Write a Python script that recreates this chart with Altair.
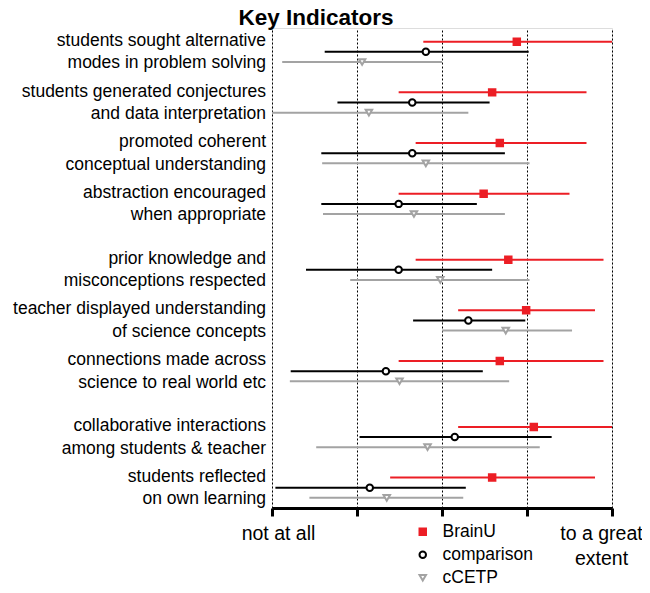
import altair as alt
import pandas as pd

FONT = "Liberation Sans, Arial, Helvetica, sans-serif"

indicators = [
    "students sought alternative \nmodes in problem solving",
    "students generated conjectures\nand data interpretation",
    "promoted coherent\nconceptual understanding",
    "abstraction encouraged\nwhen appropriate",
    "prior knowledge and\nmisconceptions respected",
    "teacher displayed understanding\nof science concepts",
    "connections made across\nscience to real world etc",
    "collaborative interactions\namong students  & teacher",
    "students reflected\non own learning",
]
groups = [0, 0, 0, 0, 1, 1, 1, 2, 2]

series = ["BrainU", "comparison", "cCETP"]
colors = ["#EC1E25", "#000000", "#A3A3A3"]
fills = ["#EC1E25", "#FFFFFF", "#FFFFFF"]
shapes = ["square", "circle", "triangle-down"]

brainu_mean = [3.88, 3.59, 3.68, 3.49, 3.78, 3.99, 3.68, 4.08, 3.59]
brainu_lo = [2.78, 2.49, 2.69, 2.49, 2.69, 3.19, 2.49, 3.19, 2.39]
brainu_hi = [5.00, 4.70, 4.70, 4.50, 4.90, 4.80, 4.90, 5.00, 4.80]

comp_mean = [2.81, 2.65, 2.65, 2.49, 2.49, 3.31, 2.34, 3.15, 2.15]
comp_lo = [1.62, 1.77, 1.58, 1.58, 1.40, 2.66, 1.22, 2.03, 1.04]
comp_hi = [4.02, 3.56, 3.74, 3.41, 3.59, 3.98, 3.48, 4.29, 3.28]

cc_mean = [2.06, 2.14, 2.81, 2.67, 2.98, 3.75, 2.50, 2.83, 2.35]
cc_lo = [1.12, 1.00, 1.59, 1.60, 1.92, 3.00, 1.21, 1.52, 1.44]
cc_hi = [3.00, 3.31, 4.03, 3.74, 4.03, 4.53, 3.79, 4.15, 3.25]

x_ticks = [1, 2, 3, 4, 5]
title_text = ["Key Indicators"]

GROUP_GAP = 0.3
SERIES_OFFSET = [-0.2, 0.0, 0.2]

row_pos = [i + GROUP_GAP * g for i, g in enumerate(groups)]

all_stats = [
    (brainu_mean, brainu_lo, brainu_hi),
    (comp_mean, comp_lo, comp_hi),
    (cc_mean, cc_lo, cc_hi),
]

rows = []
for s_i, (name, (m, lo, hi)) in enumerate(zip(series, all_stats)):
    for r_i in range(len(indicators)):
        rows.append({
            "series": name,
            "indicator": indicators[r_i],
            "pos": row_pos[r_i] + SERIES_OFFSET[s_i],
            "mean": m[r_i],
            "lo": lo[r_i],
            "hi": hi[r_i],
        })
df = pd.DataFrame(rows)
labels_df = pd.DataFrame({"label": indicators, "pos": row_pos})
title_df = pd.DataFrame({"t": title_text})

y_scale = alt.Scale(domain=[-0.47, 9.0], reverse=True, nice=False, zero=False)
x_scale = alt.Scale(domain=[1, 5], nice=False, zero=False)

x_axis = alt.Axis(
    values=x_ticks,
    grid=True,
    gridDash=[2, 2],
    gridColor="black",
    gridWidth=1,
    gridOpacity=1,
    domainColor="black",
    domainWidth=3,
    tickColor="black",
    tickWidth=3,
    tickSize=8,
    labelExpr="datum.value == 1 ? 'not at all' : (datum.value == 5 ? ['to a great', 'extent'] : '')",
    labelFontSize=19.5,
    labelLineHeight=25,
    labelFont=FONT,
    labelColor="black",
    labelFlush=False,
    labelOverlap=False,
    labelBound=False,
    labelPadding=8,
    labelOffset={"condition": {"test": "datum.value == 1", "value": 6}, "value": -11},
    title=None,
)

rule_layers = []
for name, c in zip(series, colors):
    rule_layers.append(
        alt.Chart(df[df["series"] == name]).mark_rule(color=c, strokeWidth=2).encode(
            x=alt.X("lo:Q", scale=x_scale, axis=x_axis),
            x2="hi:Q",
            y=alt.Y("pos:Q", scale=y_scale, axis=None),
        )
    )

legend = alt.Legend(
    title=None,
    orient="none",
    legendX=142,
    legendY=495,
    padding=0,
    labelFontSize=17.5,
    labelFont=FONT,
    labelColor="black",
    labelOffset=11,
    rowPadding=4,
    symbolSize=42,
    symbolStrokeWidth=2,
)

points = alt.Chart(df).mark_point(size=42, strokeWidth=2, opacity=1).encode(
    x=alt.X("mean:Q", scale=x_scale, axis=x_axis),
    y=alt.Y("pos:Q", scale=y_scale, axis=None),
    shape=alt.Shape("series:N", scale=alt.Scale(domain=series, range=shapes), legend=legend),
    stroke=alt.Stroke("series:N", scale=alt.Scale(domain=series, range=colors), legend=legend),
    fill=alt.Fill("series:N", scale=alt.Scale(domain=series, range=fills), legend=legend),
)

labels = alt.Chart(labels_df).mark_text(
    align="right",
    baseline="middle",
    fontSize=17.5,
    lineHeight=22.5,
    lineBreak="\n",
    font=FONT,
    color="black",
    dy=-11,
).encode(
    x=alt.value(-6),
    y=alt.Y("pos:Q", scale=y_scale, axis=None),
    text="label:N",
)

title = alt.Chart(title_df).mark_text(
    align="center",
    baseline="alphabetic",
    fontSize=22.5,
    fontWeight="bold",
    font=FONT,
    color="black",
).encode(
    x=alt.value(44),
    y=alt.value(-3),
    text="t:N",
)

chart = alt.layer(*rule_layers, points, labels, title).properties(
    width=340,
    height=480,
    padding={"left": 264, "top": 20, "right": 30, "bottom": 77},
    autosize=alt.AutoSizeParams(type="none"),
).configure_view(stroke=None).configure(background="white")

chart.save("out.html", embed_options={"renderer": "svg", "actions": False})
